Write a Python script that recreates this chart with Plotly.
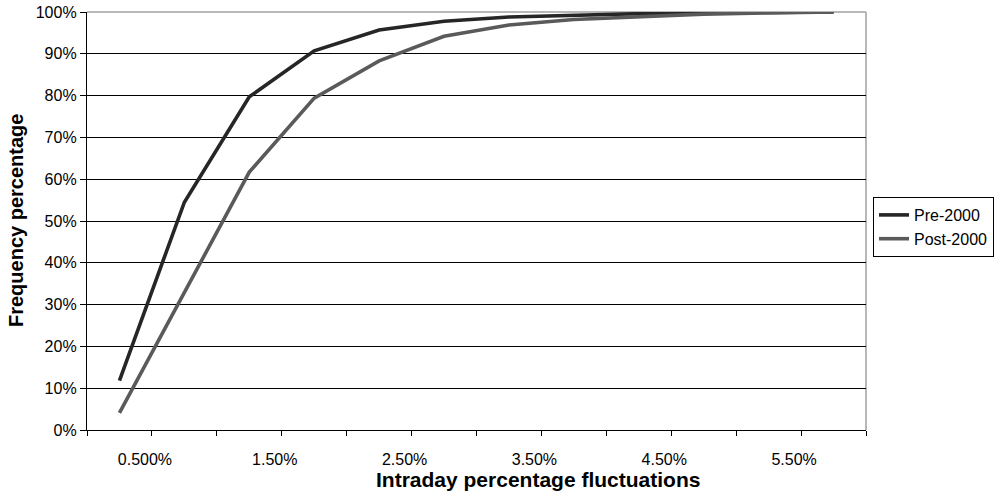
import plotly.graph_objects as go

# Bin midpoints of intraday fluctuation (percent)
bin_mid = [0.25, 0.75, 1.25, 1.75, 2.25, 2.75, 3.25, 3.75, 4.25, 4.75, 5.25, 5.75]
pre_2000 = [0.118, 0.545, 0.797, 0.907, 0.957, 0.978, 0.988, 0.993, 0.996, 0.998, 0.999, 1.0]
post_2000 = [0.041, 0.330, 0.617, 0.794, 0.883, 0.942, 0.969, 0.982, 0.989, 0.995, 0.998, 1.0]

tick_pos = [i * 0.5 for i in range(13)]
tick_lbl = ["", "0.500%", "", "1.50%", "", "2.50%", "", "3.50%", "", "4.50%", "", "5.50%", ""]
y_ticks = [i / 10 for i in range(11)]

FONT = "Liberation Sans, Arial, sans-serif"

fig = go.Figure()
fig.add_trace(go.Scatter(x=bin_mid, y=pre_2000, mode="lines", name="Pre-2000",
                         line=dict(color="#262626", width=3.6)))
fig.add_trace(go.Scatter(x=bin_mid, y=post_2000, mode="lines", name="Post-2000",
                         line=dict(color="#5a5a5a", width=3.6)))

fig.update_layout(
    width=1000, height=493,
    margin=dict(l=87, r=134, t=12, b=63, autoexpand=False),
    paper_bgcolor="white", plot_bgcolor="white",
    font=dict(family=FONT, color="black", size=16),
    showlegend=True,
    legend=dict(x=(873 - 87) / 779, xanchor="left", y=(430 - 197) / 418, yanchor="top",
                bordercolor="black", borderwidth=1, bgcolor="white",
                font=dict(size=16, family=FONT), itemwidth=30,
                tracegroupgap=0),
    xaxis=dict(range=[0, 6], tickmode="array", tickvals=tick_pos, ticktext=tick_lbl,
               showgrid=False, zeroline=False, showline=True, linecolor="black", linewidth=1.3,
               ticks="outside", ticklen=5, tickcolor="black", tickwidth=1.3, automargin=False,
               tickfont=dict(size=16), ticklabelshift=-7, ticklabelstandoff=10),
    yaxis=dict(range=[0, 1], tickmode="array", tickvals=y_ticks, tickformat=".0%",
               showgrid=True, gridcolor="black", gridwidth=1, automargin=False,
               zeroline=False, showline=True, linecolor="black", linewidth=1.3,
               ticks="outside", ticklen=6, tickcolor="black", tickwidth=1.3,
               tickfont=dict(size=16)),
    annotations=[
        dict(text="<b>Intraday percentage fluctuations</b>", xref="paper", yref="paper",
             x=(538 - 87) / 779, y=-(479 - 430) / 418, xanchor="center", yanchor="middle",
             showarrow=False, font=dict(size=21, family=FONT)),
        dict(text="<b>Frequency percentage</b>", xref="paper", yref="paper",
             x=-(87 - 16) / 779, y=0.5, xanchor="center", yanchor="middle", textangle=-90,
             showarrow=False, font=dict(size=20, family=FONT)),
    ],
    shapes=[
        dict(type="line", xref="paper", yref="paper", x0=0, x1=1, y0=1, y1=1,
             line=dict(color="#a0a0a0", width=1.5), layer="between"),
        dict(type="line", xref="paper", yref="paper", x0=1, x1=1, y0=0, y1=1,
             line=dict(color="#a0a0a0", width=1.5), layer="between"),
    ],
)

# remove the browser's default 8px body margin so the figure sits at the page origin
fig.write_html("out.html", config={"displayModeBar": False},
               post_script="document.body.style.margin='0';document.body.style.overflow='hidden';")
